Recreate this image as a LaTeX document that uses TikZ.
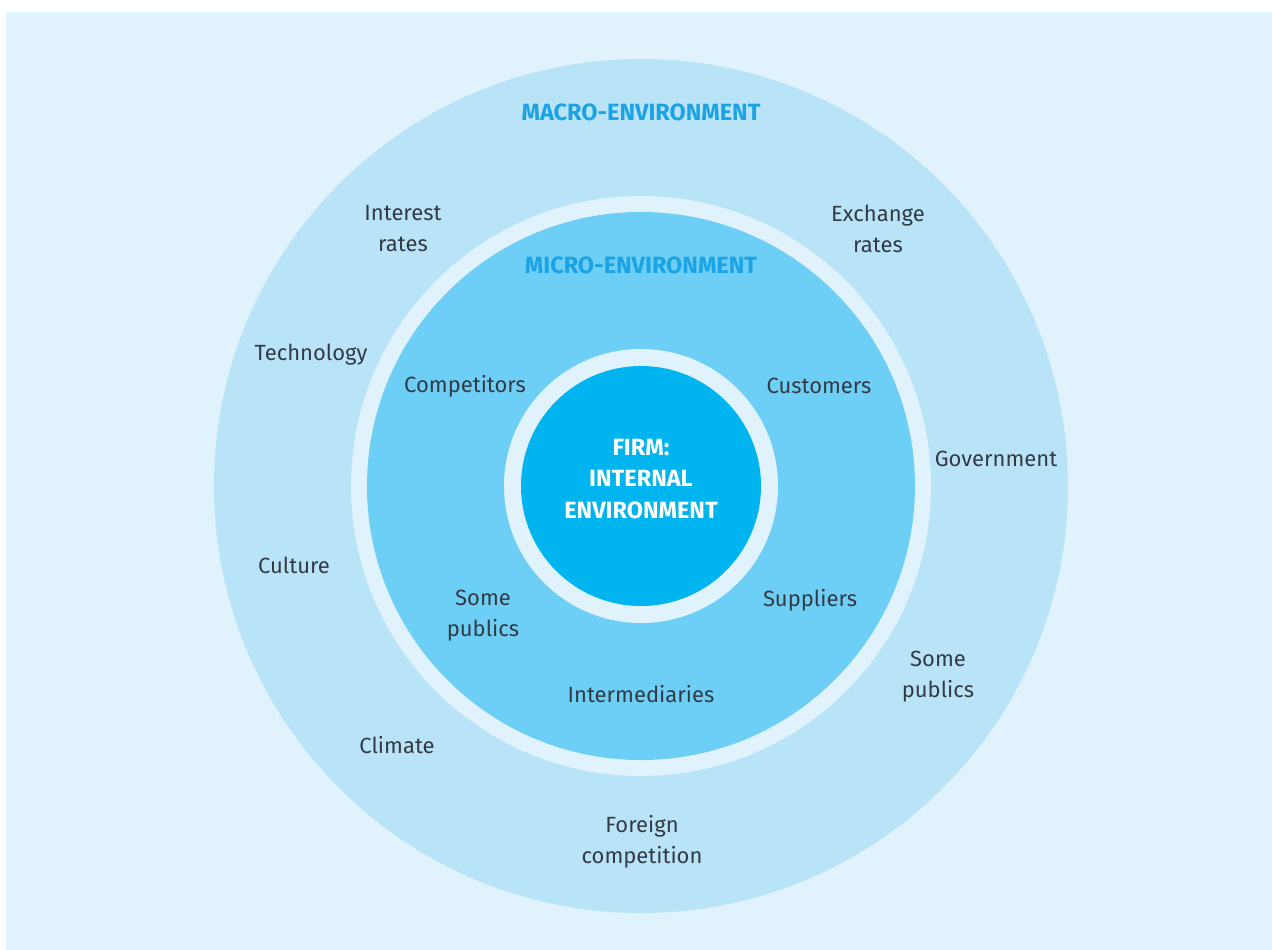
\documentclass[tikz,border=0pt]{standalone}
\usepackage{fontspec}
\setmainfont{Fira Sans}
\definecolor{bgblue}{HTML}{E0F2FC}
\definecolor{macroblue}{HTML}{B9E4F8}
\definecolor{microblue}{HTML}{6DCFF5}
\definecolor{firmblue}{HTML}{00B5EF}
\definecolor{headblue}{HTML}{1BA3E5}
\definecolor{labelgray}{HTML}{333A45}
\begin{document}
\begin{tikzpicture}[x=1pt,y=-1pt,
  lbl/.style={text=labelgray,font=\fontsize{22}{31}\selectfont,align=center,inner sep=0pt},
  head/.style={text=headblue,font=\fontsize{23.5}{31}\selectfont\bfseries,inner sep=0pt},
  firmtext/.style={text=white,font=\fontsize{23.5}{31.5}\selectfont\bfseries,align=center,inner sep=0pt}]
\useasboundingbox (0,0) rectangle (1272,950);
\fill[white] (0,0) rectangle (1272,950);
\fill[bgblue] (6,12) rectangle (1272,950);
\node[circle,fill=macroblue,minimum size=854pt,inner sep=0pt] (macro) at (641,486) {};
\node[circle,fill=bgblue,minimum size=580pt,inner sep=0pt] (microring) at (641,486) {};
\node[circle,fill=microblue,minimum size=548pt,inner sep=0pt] (micro) at (641,486) {};
\node[circle,fill=bgblue,minimum size=274pt,inner sep=0pt] (firmring) at (641,486) {};
\node[circle,fill=firmblue,minimum size=240pt,inner sep=0pt] (firm) at (641,486) {};
\node[firmtext] (firmlbl) at (641,479) {FIRM:\\INTERNAL\\ENVIRONMENT};
\node[head] (macrolbl) at (641,112) {MACRO-ENVIRONMENT};
\node[head] (microlbl) at (641,265) {MICRO-ENVIRONMENT};
\node[lbl] (interest) at (403,229) {Interest\\rates};
\node[lbl] (exchange) at (878,229) {Exchange\\rates};
\node[lbl] (tech) at (311,355) {Technology};
\node[lbl] (comp) at (465,386) {Competitors};
\node[lbl] (cust) at (819,386) {Customers};
\node[lbl] (gov) at (996,459) {Government};
\node[lbl] (culture) at (294,565) {Culture};
\node[lbl] (publicsin) at (483,616) {Some\\publics};
\node[lbl] (suppliers) at (810,600) {Suppliers};
\node[lbl] (publicsout) at (938,677) {Some\\publics};
\node[lbl] (inter) at (641,694) {Intermediaries};
\node[lbl] (climate) at (397,745) {Climate};
\node[lbl] (foreign) at (642,842) {Foreign\\competition};
\end{tikzpicture}
\end{document}
